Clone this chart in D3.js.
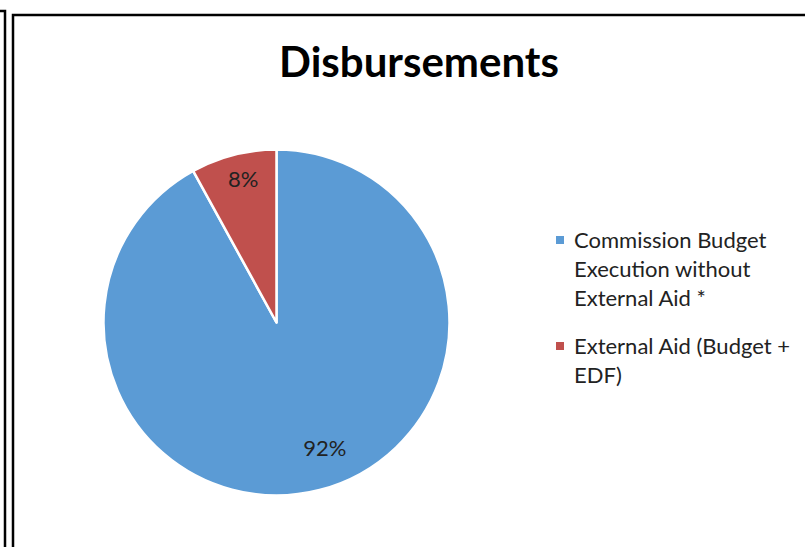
<!DOCTYPE html>
<html>
<head>
<meta charset="utf-8">
<script src="https://cdn.jsdelivr.net/npm/d3@7"></script>
<style>
  body { margin: 0; background: #fff; }
  svg { display: block; font-family: Lato, "Open Sans", sans-serif; }
</style>
</head>
<body>
<script>
//pie chart of disbursements, redrawn with d3

//chart data
var categories = ["Commission Budget Execution without External Aid *", "External Aid (Budget + EDF)"];
var values = [92, 8];
var labels = ["92%", "8%"];
var legendLines = [["Commission Budget", "Execution without", "External Aid *"], ["External Aid (Budget +", "EDF)"]];
var colors = ["#5B9BD5", "#C0504D"];

var width = 805, height = 547;

var svg = d3.select("body").append("svg")
    .attr("width", width)
    .attr("height", height);

//frame lines (outer + chart area)
svg.append("path")
    .attr("d", "M0,11H5V547")
    .attr("fill", "none").attr("stroke", "#000").attr("stroke-width", 2.5);
svg.append("path")
    .attr("d", "M13,547V15H805")
    .attr("fill", "none").attr("stroke", "#000").attr("stroke-width", 2.5);

//title
svg.append("text")
    .attr("x", 419)
    .attr("y", 77)
    .attr("text-anchor", "middle")
    .style("font-size", "42px")
    .style("font-weight", "bold")
    .text("Disbursements");

var cx = 276.5, cy = 322.5, r = 173;

var pie = d3.pie().sort(null).value(function(d){ return d; });
var arc = d3.arc().innerRadius(0).outerRadius(r);
var arcs = pie(values);

var g = svg.append("g").attr("transform", "translate(" + cx + "," + cy + ")");

g.selectAll(".slice")
    .data(arcs)
    .enter()
    .append("path")
    .attr("class", "slice")
    .attr("d", arc)
    .attr("fill", function(d, i){ return colors[i]; })
    .attr("stroke", "#fff")
    .attr("stroke-width", 2.5)
    .attr("stroke-linejoin", "round");

//data labels (small nudges to match excel's best-fit placement)
var labelArc = d3.arc().innerRadius(r * 0.8).outerRadius(r * 0.8);
var nudge = [[14, -8], [1, -9]];
g.selectAll(".lbl")
    .data(arcs)
    .enter()
    .append("text")
    .attr("class", "lbl")
    .attr("transform", function(d, i){
        var c = labelArc.centroid(d);
        return "translate(" + (c[0] + nudge[i][0]) + "," + (c[1] + nudge[i][1]) + ")";
    })
    .attr("text-anchor", "middle")
    .attr("dy", "0.35em")
    .style("font-size", "22px")
    .attr("fill", "#222")
    .text(function(d, i){ return labels[i]; });

//legend
var legendY = [240, 346];
var legend = svg.selectAll(".legend")
    .data(categories)
    .enter()
    .append("g")
    .attr("class", "legend")
    .attr("transform", function(d, i){ return "translate(556," + legendY[i] + ")"; });

legend.append("rect")
    .attr("x", 0).attr("y", -4)
    .attr("width", 8).attr("height", 8)
    .attr("fill", function(d, i){ return colors[i]; });

legend.append("text")
    .attr("x", 18)
    .attr("y", 8)
    .style("font-size", "22px")
    .attr("fill", "#222")
    .selectAll("tspan")
    .data(function(d, i){ return legendLines[i]; })
    .enter()
    .append("tspan")
    .attr("x", 18)
    .attr("dy", function(d, j){ return j === 0 ? 0 : 29; })
    .text(function(d){ return d; });
</script>
</body>
</html>
